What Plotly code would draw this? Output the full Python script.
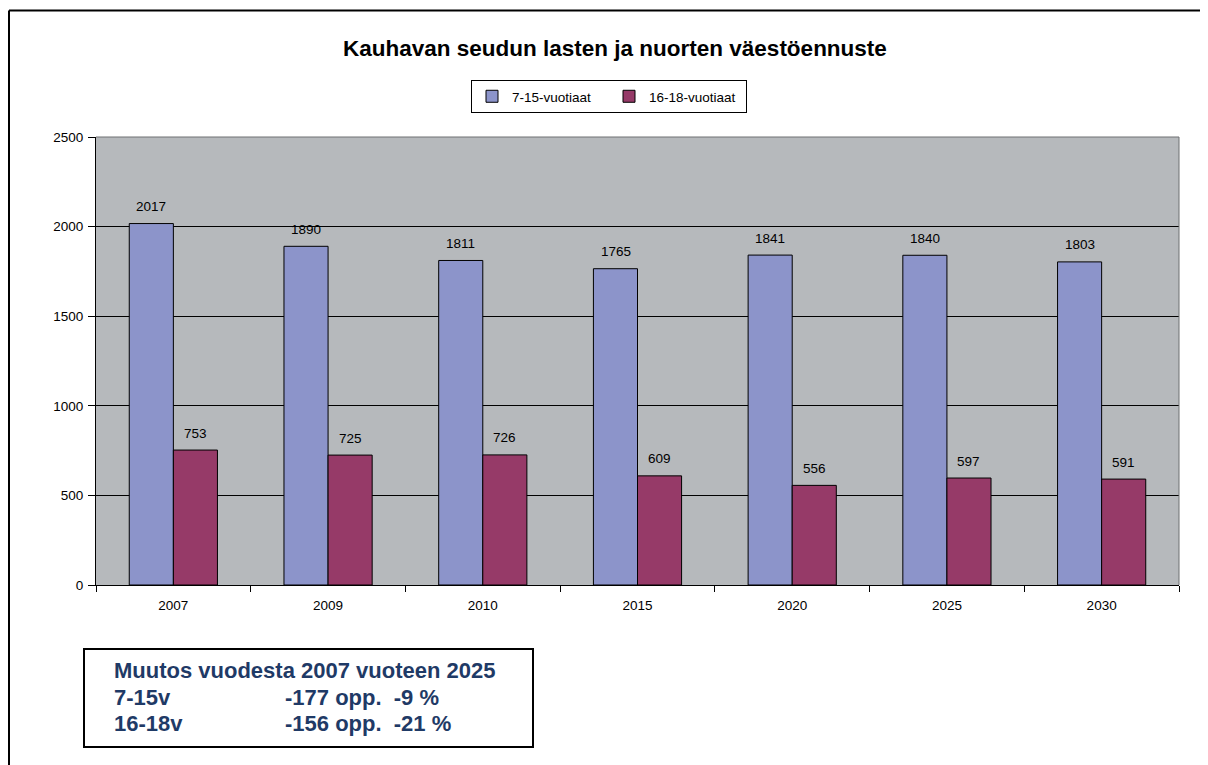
import plotly.graph_objects as go

years = ["2007", "2009", "2010", "2015", "2020", "2025", "2030"]
age_7_15 = [2017, 1890, 1811, 1765, 1841, 1840, 1803]
age_16_18 = [753, 725, 726, 609, 556, 597, 591]
series_names = ["7-15-vuotiaat", "16-18-vuotiaat"]
series_colors = ["#8C94CA", "#963A68"]
title_text = "Kauhavan seudun lasten ja nuorten väestöennuste"
note_header = "Muutos vuodesta 2007 vuoteen 2025"
note_labels = ["7-15v", "16-18v"]
note_values = ["-177 opp.  -9 %", "-156 opp.  -21 %"]

# page has an 8px body margin; figure is sized/offset accordingly
OFF = 8
W, H = 1208 - OFF, 765 - OFF
L, T = 96 - OFF, 137 - OFF
R = W - (1179 - OFF)
B = H - (585 - OFF)
PW, PH = W - L - R, H - T - B


def px_x(x):
    """page x pixel -> paper coordinate"""
    return (x - OFF - L) / PW


def px_y(y):
    """page y pixel -> paper coordinate"""
    return (H - B - (y - OFF)) / PH


FONT = "Liberation Sans, Arial, sans-serif"
SMALL = 13.5

fig = go.Figure()
for name, vals, col in zip(series_names, [age_7_15, age_16_18], series_colors):
    fig.add_trace(go.Bar(
        x=years, y=vals, name=name,
        marker=dict(color=col, line=dict(color="black", width=1)),
    ))

annotations = []
for shift, vals in zip([-22, 22], [age_7_15, age_16_18]):
    for i, v in enumerate(vals):
        annotations.append(dict(
            x=i, y=v, xref="x", yref="y", text=str(v), showarrow=False,
            xshift=shift, yshift=17, yanchor="middle",
            font=dict(family=FONT, size=SMALL, color="black"),
        ))

annotations.append(dict(
    x=px_x(614.7), y=px_y(48), xref="paper", yref="paper", text="<b>%s</b>" % title_text,
    showarrow=False, xanchor="center", yanchor="middle",
    font=dict(family=FONT, size=22.5, color="black"),
))

note_font = dict(family=FONT, size=22, color="#1F3A66")
annotations.append(dict(
    x=px_x(112), y=px_y(670), xref="paper", yref="paper", text="<b>%s</b>" % note_header,
    showarrow=False, xanchor="left", yanchor="middle", font=note_font,
))
for lab, val, yy in zip(note_labels, note_values, [697, 723]):
    annotations.append(dict(
        x=px_x(112), y=px_y(yy), xref="paper", yref="paper", text="<b>%s</b>" % lab,
        showarrow=False, xanchor="left", yanchor="middle", font=note_font,
    ))
    annotations.append(dict(
        x=px_x(283), y=px_y(yy), xref="paper", yref="paper", text="<b>%s</b>" % val,
        showarrow=False, xanchor="left", yanchor="middle", font=note_font,
    ))

shapes = [
    # outer frame (left and top)
    dict(type="line", xref="paper", yref="paper", x0=px_x(9), x1=px_x(9),
         y0=px_y(10.5), y1=px_y(790), line=dict(color="black", width=2)),
    dict(type="line", xref="paper", yref="paper", x0=px_x(9), x1=px_x(1230),
         y0=px_y(10.5), y1=px_y(10.5), line=dict(color="black", width=2)),
    # plot area border top / right
    dict(type="line", xref="paper", yref="paper", x0=0, x1=1, y0=1, y1=1,
         line=dict(color="#6E7173", width=1)),
    dict(type="line", xref="paper", yref="paper", x0=1, x1=1, y0=0, y1=1,
         line=dict(color="#6E7173", width=1)),
    # note box
    dict(type="rect", xref="paper", yref="paper", x0=px_x(84), x1=px_x(533),
         y0=px_y(747), y1=px_y(649), line=dict(color="black", width=2),
         fillcolor="white"),
]

fig.update_layout(
    width=W, height=H,
    margin=dict(l=L, r=R, t=T, b=B, pad=0),
    paper_bgcolor="white", plot_bgcolor="#B6B9BC",
    barmode="group", bargap=0.43, bargroupgap=0,
    font=dict(family=FONT, size=SMALL, color="black"),
    showlegend=True,
    legend=dict(
        orientation="h", x=px_x(471), y=px_y(80), xanchor="left", yanchor="top",
        bordercolor="black", borderwidth=1, bgcolor="white",
        font=dict(family=FONT, size=SMALL, color="black"),
        entrywidth=92, entrywidthmode="pixels", itemwidth=30,
    ),
    annotations=annotations,
    shapes=shapes,
    xaxis=dict(
        type="category", range=[-0.5, len(years) - 0.5],
        showline=True, linecolor="black", linewidth=1,
        ticks="outside", tickson="boundaries", ticklen=6, tickcolor="black",
        ticklabelstandoff=8,
        showgrid=False, tickfont=dict(family=FONT, size=SMALL, color="black"),
    ),
    yaxis=dict(
        range=[0, 2500], dtick=500, showline=True, linecolor="black", linewidth=1,
        ticks="outside", ticklen=7, tickcolor="black", showgrid=True,
        gridcolor="black", gridwidth=1, zeroline=False, ticklabelstandoff=2,
        tickfont=dict(family=FONT, size=SMALL, color="black"),
    ),
)

fig.write_html("out.html")
